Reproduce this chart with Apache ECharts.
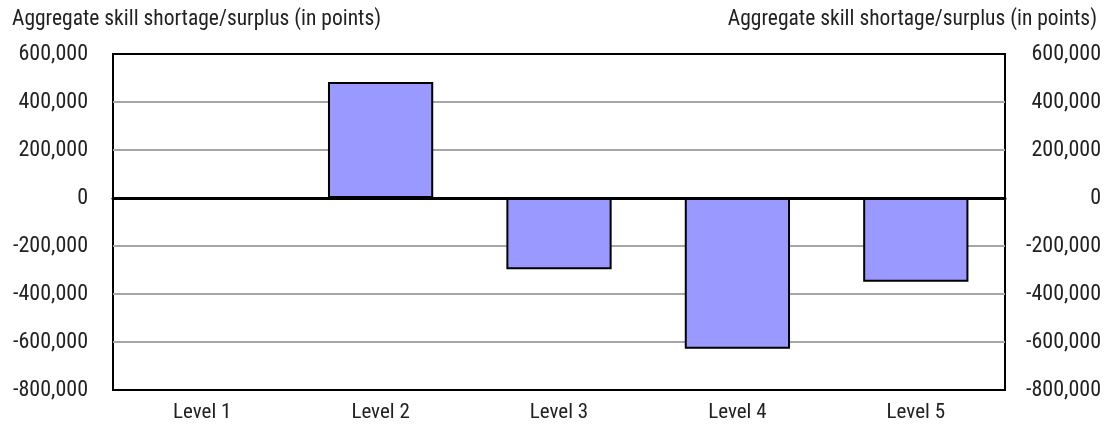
<!DOCTYPE html>
<html>
<head>
<meta charset="utf-8">
<script src="https://cdn.jsdelivr.net/npm/echarts@6/dist/echarts.min.js"></script>
<style>
  html, body { margin: 0; padding: 0; background: #fff; }
  #chart { width: 1109px; height: 430px; }
</style>
</head>
<body>
<div id="chart"></div>
<script>
const categories = ['Level 1', 'Level 2', 'Level 3', 'Level 4', 'Level 5'];
const values = [0, 483000, -297000, -628000, -349000];
const axisTitle = 'Aggregate skill shortage/surplus (in points)';

const font = '"Roboto Condensed", "Liberation Sans", sans-serif';
const fmt = v => v.toLocaleString('en-US');

const chart = echarts.init(document.getElementById('chart'));
chart.setOption({
  animation: false,
  backgroundColor: '#fff',
  textStyle: { fontFamily: font },
  title: [
    { text: axisTitle, left: 7, top: 4, textStyle: { fontFamily: font, fontSize: 21.5, fontWeight: 'normal', color: '#222' } },
    { text: axisTitle, right: 7, top: 4, textStyle: { fontFamily: font, fontSize: 21.5, fontWeight: 'normal', color: '#222' } }
  ],
  grid: {
    left: 113, right: 104, top: 54, bottom: 40,
    show: true, borderColor: '#000', borderWidth: 2
  },
  xAxis: {
    type: 'category',
    data: categories,
    axisLine: { onZero: true, lineStyle: { color: '#000', width: 3 } },
    axisTick: { show: false },
    axisLabel: { fontFamily: font, fontSize: 21, color: '#222', margin: 12 }
  },
  yAxis: [
    {
      type: 'value', position: 'left', min: -800000, max: 600000, interval: 200000,
      axisLine: { show: false }, axisTick: { show: false },
      splitLine: { showMinLine: false, showMaxLine: false, lineStyle: { color: '#a6a6a6', width: 2 } },
      axisLabel: { fontFamily: font, fontSize: 22, color: '#222', margin: 25, formatter: fmt }
    },
    {
      type: 'value', position: 'right', min: -800000, max: 600000, interval: 200000,
      axisLine: { show: false }, axisTick: { show: false }, splitLine: { show: false },
      axisLabel: { fontFamily: font, fontSize: 22, color: '#222', margin: 96, align: 'right', formatter: fmt }
    }
  ],
  series: [{
    type: 'bar',
    data: values,
    barWidth: '59%',
    itemStyle: { color: '#9999ff', borderColor: '#000', borderWidth: 2 }
  }]
});
</script>
</body>
</html>
